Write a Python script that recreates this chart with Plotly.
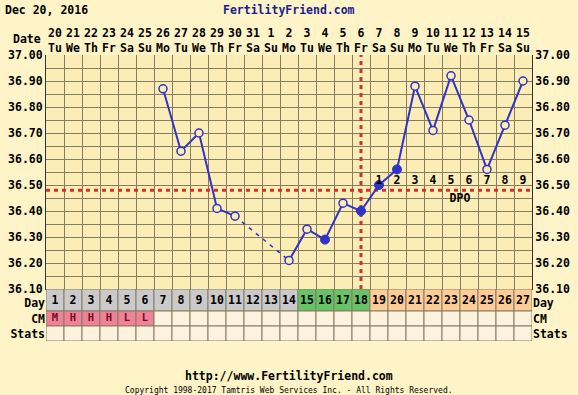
import plotly.graph_objects as go

# ---------------- data ----------------
days = list(range(1, 28))
dates = ["20", "21", "22", "23", "24", "25", "26", "27", "28", "29", "30", "31",
         "1", "2", "3", "4", "5", "6", "7", "8", "9", "10", "11", "12", "13", "14", "15"]
weekdays = ["Tu", "We", "Th", "Fr", "Sa", "Su", "Mo", "Tu", "We", "Th", "Fr", "Sa", "Su",
            "Mo", "Tu", "We", "Th", "Fr", "Sa", "Su", "Mo", "Tu", "We", "Th", "Fr", "Sa", "Su"]
temps = [None, None, None, None, None, None,
         36.87, 36.63, 36.70, 36.41, 36.38, None, None, 36.21, 36.33, 36.29, 36.43,
         36.40, 36.50, 36.56, 36.88, 36.71, 36.92, 36.75, 36.56, 36.73, 36.90]
filled_days = [16, 18, 19, 20]
coverline = 36.48
ovulation_day = 18
dpo_days = [19, 20, 21, 22, 23, 24, 25, 26, 27]
dpo_labels = ["1", "2", "3", "4", "5", "6", "7", "8", "9"]
phase = ["pre"] * 14 + ["fertile"] * 4 + ["post"] * 9
cm = ["M", "H", "H", "H", "L", "L"] + [""] * 21
ytick_vals = [round(36.10 + 0.05 * i, 2) for i in range(19)]
ytick_text = [f"{v:.2f}" if i % 2 == 0 else "" for i, v in enumerate(ytick_vals)]
row_names = ["Stats", "CM", "Day"]
row_centers = [7.5, 22.5, 38.5]

# ---------------- styles ----------------
PAPER = "#FEF4C8"
PLOT = "#FCEDB7"
GRID = "#857D62"
BLUE = "#2E34C8"
RED = "#CC3333"
FONT = "DejaVu Sans Mono"
FS = 11.5
phase_colors = {"pre": "#CACACA", "fertile": "#66C466", "post": "#FFCC98"}
CM_COLOR = "#EE8397"
CELL = "#FCF2DD"

fig = go.Figure()

# coverline and ovulation line
fig.add_trace(go.Scatter(x=[0.5, 27.5], y=[coverline, coverline], mode="lines",
                         line=dict(color=RED, width=3, dash="4px,4px"),
                         hoverinfo="skip", showlegend=False))
fig.add_trace(go.Scatter(x=[ovulation_day, ovulation_day], y=[36.10, 37.00], mode="lines",
                         line=dict(color=RED, width=3, dash="4px,4px"),
                         hoverinfo="skip", showlegend=False))

# dashed segments over missing days
rec = [(d, t) for d, t in zip(days, temps) if t is not None]
for (d0, t0), (d1, t1) in zip(rec[:-1], rec[1:]):
    if d1 - d0 > 1:
        fig.add_trace(go.Scatter(x=[d0, d1], y=[t0, t1], mode="lines",
                                 line=dict(color=BLUE, width=1.5, dash="4px,5px"),
                                 hoverinfo="skip", showlegend=False))

# solid temperature line
fig.add_trace(go.Scatter(x=days, y=temps, mode="lines", connectgaps=False,
                         line=dict(color=BLUE, width=2), showlegend=False))
od = [d for d, t in zip(days, temps) if t is not None and d not in filled_days]
ot = [t for d, t in zip(days, temps) if t is not None and d not in filled_days]
fig.add_trace(go.Scatter(x=od, y=ot, mode="markers",
                         marker=dict(symbol="circle", size=8, color=PLOT,
                                     line=dict(color=BLUE, width=1.5)),
                         showlegend=False))
ft = [temps[d - 1] for d in filled_days]
fig.add_trace(go.Scatter(x=filled_days, y=ft, mode="markers",
                         marker=dict(symbol="circle", size=9, color=BLUE,
                                     line=dict(color=BLUE, width=1)),
                         showlegend=False))

# DPO labels
fig.add_trace(go.Scatter(x=dpo_days, y=[coverline + 0.033] * len(dpo_days), mode="text",
                         text=dpo_labels,
                         textfont=dict(family=FONT, size=FS, color="black", weight="bold"),
                         hoverinfo="skip", showlegend=False))
fig.add_trace(go.Scatter(x=[(dpo_days[0] + dpo_days[-1]) / 2 + 0.5], y=[coverline - 0.033],
                         mode="text", text=["DPO"],
                         textfont=dict(family=FONT, size=FS, color="black", weight="bold"),
                         hoverinfo="skip", showlegend=False))

# bottom rows: cells
shapes = []
for d, ph, c in zip(days, phase, cm):
    shapes.append(dict(type="rect", xref="x3", yref="y2", x0=d - 0.5, x1=d + 0.5, y0=30, y1=52,
                       fillcolor=phase_colors[ph], line=dict(color=GRID, width=1), layer="below"))
    shapes.append(dict(type="rect", xref="x3", yref="y2", x0=d - 0.5, x1=d + 0.5, y0=15, y1=30,
                       fillcolor=CM_COLOR if c else CELL, line=dict(color=GRID, width=1),
                       layer="below"))
    shapes.append(dict(type="rect", xref="x3", yref="y2", x0=d - 0.5, x1=d + 0.5, y0=0, y1=15,
                       fillcolor=CELL, line=dict(color=GRID, width=1), layer="below"))
fig.add_trace(go.Scatter(x=days, y=[40] * len(days), mode="text",
                         text=[str(d) for d in days], xaxis="x3", yaxis="y2",
                         textfont=dict(family=FONT, size=FS, color="black", weight="bold"),
                         hoverinfo="skip", showlegend=False))
fig.add_trace(go.Scatter(x=days, y=[row_centers[1]] * len(days), mode="text",
                         text=cm, xaxis="x3", yaxis="y2",
                         textfont=dict(family=FONT, size=10.5, color="#7A0A1A", weight="bold"),
                         hoverinfo="skip", showlegend=False))

# invisible anchors so the overlay axes render
fig.add_trace(go.Scatter(x=[1], y=[36.10], xaxis="x2", yaxis="y", mode="markers",
                         marker=dict(opacity=0), hoverinfo="skip", showlegend=False))
fig.add_trace(go.Scatter(x=[1], y=[36.10], xaxis="x", yaxis="y3", mode="markers",
                         marker=dict(opacity=0), hoverinfo="skip", showlegend=False))
fig.add_trace(go.Scatter(x=[1], y=[0], xaxis="x3", yaxis="y4", mode="markers",
                         marker=dict(opacity=0), hoverinfo="skip", showlegend=False))

tickfont = dict(family=FONT, size=FS, color="black", weight="bold")
H = 286.0
split = 52 / H

fig.update_layout(
    width=578, height=395,
    margin=dict(l=46, r=46, t=55, b=54, autoexpand=False),
    paper_bgcolor=PAPER, plot_bgcolor=PLOT,
    shapes=shapes,
    hovermode=False,
    xaxis=dict(domain=[0, 1], anchor="y", range=[0.5, 27.5], automargin=False,
               tickvals=[d - 0.5 for d in days] + [27.5], showticklabels=False,
               showgrid=True, gridcolor=GRID, gridwidth=1, zeroline=False,
               showline=True, linecolor="#333", linewidth=1, ticks=""),
    xaxis2=dict(overlaying="x", side="top", anchor="y", range=[0.5, 27.5], automargin=False,
                tickvals=days, ticktext=[f"{a}<br>{b}" for a, b in zip(dates, weekdays)],
                tickfont=tickfont, showgrid=False, zeroline=False, ticks="", showline=False),
    xaxis3=dict(domain=[0, 1], anchor="y2", range=[0.5, 27.5], showticklabels=False,
                automargin=False, showgrid=False, zeroline=False, ticks="", showline=False),
    yaxis=dict(domain=[split, 1], anchor="x", range=[36.10, 37.00], automargin=False,
               tickvals=ytick_vals, ticktext=ytick_text, tickfont=tickfont,
               showgrid=True, gridcolor=GRID, gridwidth=1, zeroline=False,
               showline=True, linecolor="#333", linewidth=1, ticks=""),
    yaxis3=dict(overlaying="y", side="right", anchor="x", range=[36.10, 37.00],
                automargin=False,
                tickvals=ytick_vals, ticktext=ytick_text, tickfont=tickfont,
                showgrid=False, zeroline=False, showline=True, linecolor="#333", ticks=""),
    yaxis2=dict(domain=[0, split], anchor="x3", range=[0, 52], automargin=False,
                tickvals=row_centers, ticktext=row_names, tickfont=tickfont,
                showgrid=False, zeroline=False, showline=False, ticks=""),
    yaxis4=dict(overlaying="y2", side="right", anchor="x3", range=[0, 52], automargin=False,
                tickvals=row_centers, ticktext=row_names, tickfont=tickfont,
                showgrid=False, zeroline=False, showline=False, ticks=""),
    annotations=[
        dict(text="Dec 20, 2016", x=-0.088, y=1.157, xref="paper", yref="paper",
             xanchor="left", yanchor="middle", showarrow=False,
             font=dict(family=FONT, size=FS, color="black", weight="bold")),
        dict(text="FertilityFriend.com", x=0.5, y=1.157, xref="paper", yref="paper",
             xanchor="center", yanchor="middle", showarrow=False,
             font=dict(family=FONT, size=FS, color="#1C1C8C", weight="bold")),
        dict(text="Date", x=-0.006, y=1.056, xref="paper", yref="paper",
             xanchor="right", yanchor="middle", showarrow=False,
             font=dict(family=FONT, size=FS, color="black", weight="bold")),
        dict(text="http://www.FertilityFriend.com", x=0.5, y=-0.122, xref="paper", yref="paper",
             xanchor="center", yanchor="middle", showarrow=False,
             font=dict(family=FONT, size=FS, color="black", weight="bold")),
        dict(text="Copyright 1998-2017 Tamtris Web Services Inc. - All Rights Reserved.",
             x=0.5, y=-0.172, xref="paper", yref="paper",
             xanchor="center", yanchor="middle", showarrow=False,
             font=dict(family=FONT, size=8, color="black")),
    ],
)

fig.write_html("out.html",
               config=dict(displayModeBar=False, staticPlot=True),
               post_script="document.body.style.margin='0';"
                           "document.body.style.overflow='hidden';"
                           f"document.body.style.background='{PAPER}';")
